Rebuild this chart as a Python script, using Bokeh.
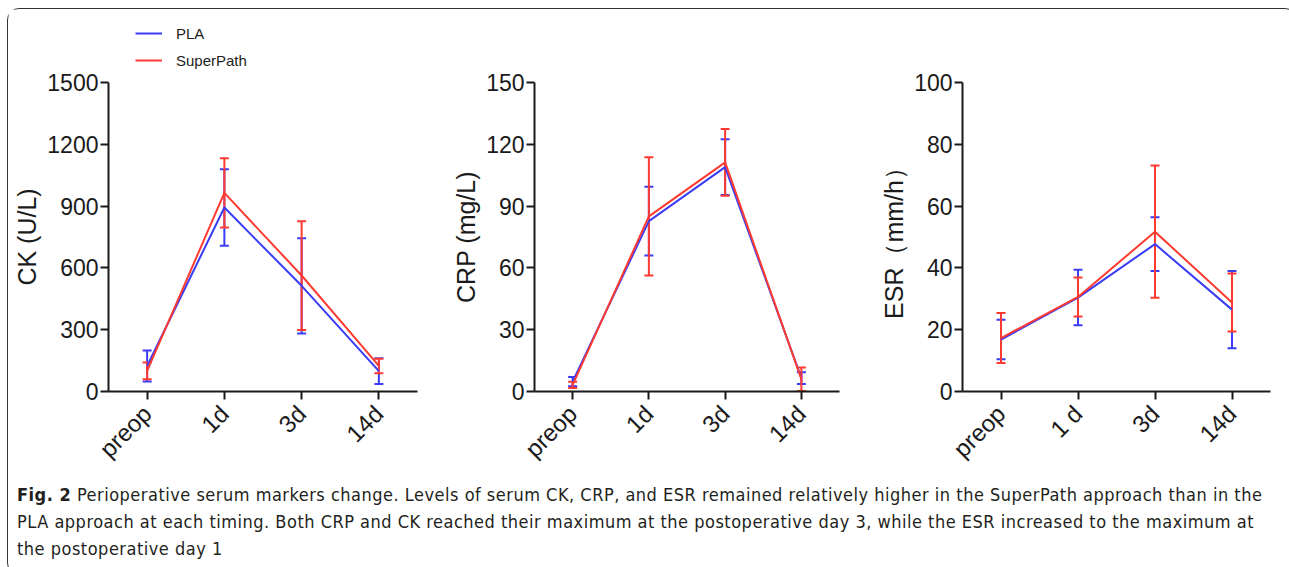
from math import pi
from bokeh.plotting import figure
from bokeh.models import (ColumnDataSource, Whisker, TeeHead, Range1d, FactorRange,
                          FixedTicker, Legend, LegendItem, Div)
from bokeh.layouts import row, column
from bokeh.embed import file_html
from bokeh.resources import INLINE

# ---------------- data ----------------
cats = ["preop", "1d", "3d", "14d"]
cats_esr = ["preop", "1 d", "3d", "14d"]

ck_pla_mean = [124, 893, 513, 99]
ck_pla_sd = [75, 186, 231, 62]
ck_sp_mean = [100, 964, 563, 124]
ck_sp_sd = [41, 168, 264, 35]
ck_ticks = [0, 300, 600, 900, 1200, 1500]

crp_pla_mean = [4.8, 82.7, 108.9, 6.5]
crp_pla_sd = [2.2, 16.7, 13.5, 2.8]
crp_sp_mean = [3.2, 85.0, 111.2, 6.0]
crp_sp_sd = [1.5, 28.7, 16.2, 5.7]
crp_ticks = [0, 30, 60, 90, 120, 150]

esr_pla_mean = [16.8, 30.4, 47.7, 26.5]
esr_pla_sd = [6.4, 9.0, 8.7, 12.5]
esr_sp_mean = [17.3, 30.6, 51.7, 28.8]
esr_sp_sd = [8.1, 6.3, 21.4, 9.4]
esr_ticks = [0, 20, 40, 60, 80, 100]

series_names = ["PLA", "SuperPath"]
caption_lines = [
    "<b>Fig. 2</b> Perioperative serum markers change. Levels of serum CK, CRP, and ESR remained relatively higher in the SuperPath approach than in the",
    "PLA approach at each timing. Both CRP and CK reached their maximum at the postoperative day 3, while the ESR increased to the maximum at",
    "the postoperative day 1",
]

BLUE = "#3a3cf6"
RED = "#ff3a30"
FONT = "Liberation Sans"
TOP = 73
FH = 309
H = 467
LEG_H = 62


def make_sources(xcats, pla_m, pla_s, sp_m, sp_s):
    out = []
    for m, s in ((pla_m, pla_s), (sp_m, sp_s)):
        out.append(ColumnDataSource(dict(x=list(xcats), y=m,
                                         upper=[a + b for a, b in zip(m, s)],
                                         lower=[a - b for a, b in zip(m, s)])))
    return out


def panel(xcats, srcs, ticks, ylabel, width, bl, br, top=TOP):
    h = H - (TOP - top)
    p = figure(x_range=FactorRange(*xcats), y_range=Range1d(ticks[0], ticks[-1]),
               width=width, height=h,
               min_border_left=bl, min_border_right=br, min_border_top=top,
               min_border_bottom=H - TOP - FH,
               toolbar_location=None, output_backend="svg",
               background_fill_color="white", border_fill_color="white")
    p.outline_line_color = None
    p.grid.grid_line_color = None
    for ax in (p.xaxis[0], p.yaxis[0]):
        ax.axis_line_width = 2
        ax.axis_line_color = "#1a1a1a"
        ax.major_tick_line_width = 2
        ax.major_tick_line_color = "#1a1a1a"
        ax.major_tick_out = 8
        ax.major_tick_in = 0
        ax.minor_tick_line_color = None
        ax.major_label_text_font = FONT
        ax.major_label_text_color = "#1a1a1a"
    p.yaxis.major_label_text_font_size = "23px"
    p.yaxis.major_label_standoff = 2
    p.xaxis.major_label_text_font_size = "24px"
    p.xaxis.major_label_standoff = 10
    p.yaxis.ticker = FixedTicker(ticks=ticks)
    p.yaxis.axis_label = ylabel
    p.yaxis.axis_label_text_font = FONT
    p.yaxis.axis_label_text_font_size = "25px"
    p.yaxis.axis_label_text_font_style = "normal"
    p.yaxis.axis_label_text_color = "#1a1a1a"
    p.yaxis.axis_label_standoff = 3
    p.xaxis.major_label_orientation = pi / 4

    for src, col in zip(srcs, (BLUE, RED)):
        w = Whisker(base="x", upper="upper", lower="lower", source=src,
                    line_color=col, line_width=2,
                    upper_head=TeeHead(size=9, line_color=col, line_width=2),
                    lower_head=TeeHead(size=9, line_color=col, line_width=2))
        p.add_layout(w)
        p.line("x", "y", source=src, line_color=col, line_width=2)
    return p


ck_srcs = make_sources(cats, ck_pla_mean, ck_pla_sd, ck_sp_mean, ck_sp_sd)
crp_srcs = make_sources(cats, crp_pla_mean, crp_pla_sd, crp_sp_mean, crp_sp_sd)
esr_srcs = make_sources(cats_esr, esr_pla_mean, esr_pla_sd, esr_sp_mean, esr_sp_sd)

p1 = panel(cats, ck_srcs, ck_ticks, "CK (U/L)", 432, 100, 23, top=TOP - LEG_H)
p2 = panel(cats, crp_srcs, crp_ticks, "CRP (mg/L)", 427, 94, 28)
p3 = panel(cats_esr, esr_srcs, esr_ticks, "ESR（mm/h）", 419, 95, 16)

# legend strip above the first panel (its renderers share the CK data but sit outside its range)
leg = figure(width=432, height=LEG_H, x_range=p1.x_range, y_range=Range1d(-3000, -2000),
             x_axis_location=None, y_axis_location=None, min_border=0,
             min_border_left=100, min_border_right=23,
             toolbar_location=None, output_backend="svg",
             background_fill_color="white", border_fill_color="white")
leg.outline_line_color = None
leg.grid.grid_line_color = None
items = []
for name, src, col in zip(series_names, ck_srcs, (BLUE, RED)):
    r1 = leg.line("x", "y", source=src, line_color=col, line_width=2)
    items.append(LegendItem(label=name, renderers=[r1]))
leg.add_layout(Legend(items=items, location=(27, 1), orientation="vertical",
                      glyph_width=27, glyph_height=20, spacing=7, label_standoff=14,
                      label_text_font=FONT, label_text_font_size="15px",
                      label_text_color="#222222", label_height=20,
                      border_line_color=None, background_fill_alpha=0,
                      padding=0, margin=0))

cap_html = ('<div style="padding:0 0 0 4px; font-family:\'DejaVu Sans Condensed\',\'DejaVu Sans\',sans-serif; '
            'font-stretch:condensed; font-size:18px; letter-spacing:0.5px; line-height:27px; '
            'color:#231f20; white-space:nowrap;">'
            + "<br>".join(caption_lines) + "</div>")
cap = Div(text=cap_html, width=1278, height=88)

lay = column(row(column(leg, p1), p2, p3), cap, margin=(8, 0, 0, 7),
             styles={"border": "1px solid #333333", "border-radius": "12px", "background": "white"})

open("out.html", "w").write(file_html(lay, INLINE))
